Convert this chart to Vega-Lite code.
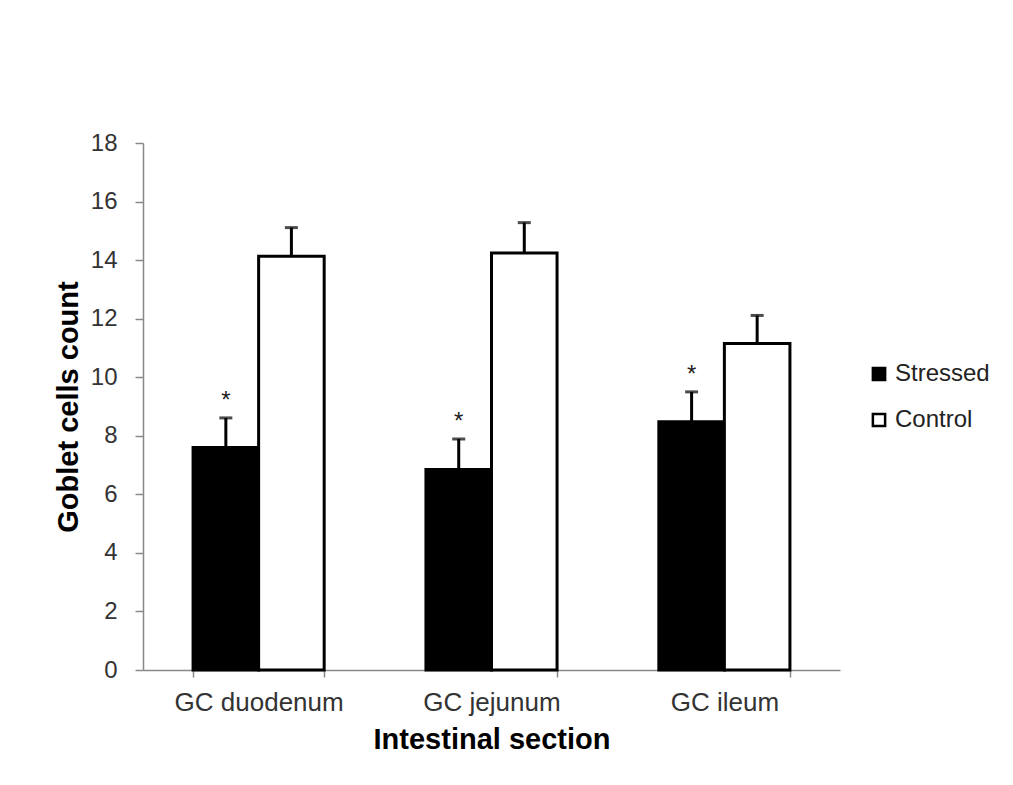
{
  "$schema": "https://vega.github.io/schema/vega-lite/v6.json",
  "autosize": "none",
  "width": 697,
  "height": 527,
  "padding": {"left": 143, "top": 143, "right": 173, "bottom": 115},
  "background": "white",
  "config": {
    "font": "Liberation Sans",
    "view": {"stroke": null},
    "axis": {"grid": false, "domainColor": "#888888", "tickColor": "#888888", "domainWidth": 1.5, "tickWidth": 1.5, "labelColor": "#333333", "titleColor": "#000000", "labelFont": "Liberation Sans", "titleFont": "Liberation Sans"}
  },
  "data": {
    "values": [
      {"section": "GC duodenum", "group": "Stressed", "mean": 7.6, "upper": 8.61, "sig": "*"},
      {"section": "GC duodenum", "group": "Control", "mean": 14.13, "upper": 15.11, "sig": ""},
      {"section": "GC jejunum", "group": "Stressed", "mean": 6.85, "upper": 7.89, "sig": "*"},
      {"section": "GC jejunum", "group": "Control", "mean": 14.24, "upper": 15.28, "sig": ""},
      {"section": "GC ileum", "group": "Stressed", "mean": 8.48, "upper": 9.5, "sig": "*"},
      {"section": "GC ileum", "group": "Control", "mean": 11.15, "upper": 12.11, "sig": ""}
    ]
  },
  "encoding": {
    "x": {
      "field": "section", "type": "nominal",
      "sort": ["GC duodenum", "GC jejunum", "GC ileum"],
      "scale": {"paddingInner": 0.437, "paddingOuter": 0.215},
      "axis": {"title": "Intestinal section", "labelAngle": 0, "tickBand": "extent", "tickSize": 7, "labelPadding": 12, "labelFontSize": 26, "titleFontSize": 29, "titleFontWeight": "bold", "titlePadding": 10}
    },
    "xOffset": {"field": "group", "type": "nominal", "sort": ["Stressed", "Control"]}
  },
  "layer": [
    {
      "mark": {"type": "bar", "stroke": "black", "strokeWidth": 3},
      "encoding": {
        "y": {
          "field": "mean", "type": "quantitative",
          "scale": {"domain": [0, 18], "nice": false, "zero": true},
          "axis": {"values": [0, 2, 4, 6, 8, 10, 12, 14, 16, 18], "tickSize": 8, "labelPadding": 18, "labelFontSize": 24, "title": "Goblet cells count", "titleFontSize": 29, "titleFontWeight": "bold", "titlePadding": 7}
        },
        "fill": {
          "field": "group", "type": "nominal",
          "scale": {"domain": ["Stressed", "Control"], "range": ["black", "white"]},
          "legend": {"title": null, "orient": "none", "legendX": 724, "legendY": 219, "symbolType": "square", "symbolSize": 150, "symbolStrokeColor": "black", "symbolStrokeWidth": 2.5, "labelFontSize": 24, "labelColor": "#222222", "labelFont": "Liberation Sans", "rowPadding": 22, "labelOffset": 4, "padding": 0}
        }
      }
    },
    {
      "mark": {"type": "rule", "color": "black", "strokeWidth": 3},
      "encoding": {
        "y": {"field": "upper", "type": "quantitative"},
        "y2": {"field": "mean"}
      }
    },
    {
      "mark": {"type": "tick", "color": "black", "orient": "horizontal", "size": 13, "thickness": 3},
      "encoding": {
        "y": {"field": "upper", "type": "quantitative"}
      }
    },
    {
      "mark": {"type": "text", "baseline": "alphabetic", "align": "center", "dy": -10, "fontSize": 24, "color": "#222222", "font": "Liberation Sans"},
      "encoding": {
        "y": {"field": "upper", "type": "quantitative"},
        "text": {"field": "sig"}
      }
    }
  ]
}
